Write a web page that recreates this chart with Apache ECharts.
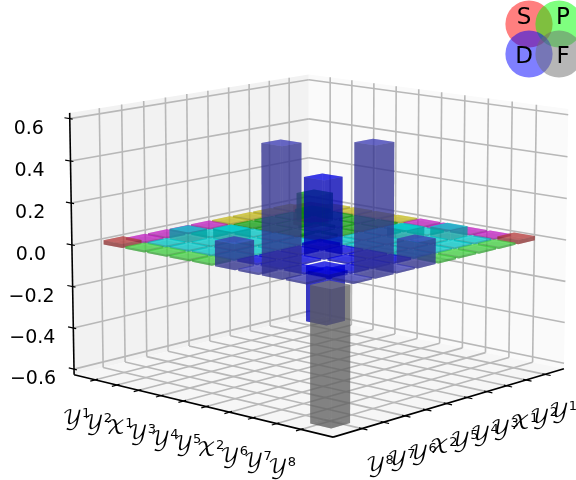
<!DOCTYPE html>
<html><head><meta charset="utf-8">
<style>html,body{margin:0;padding:0;background:#fff}#c{width:576px;height:480px}</style>
<script src="https://cdn.jsdelivr.net/npm/echarts@6/dist/echarts.min.js"></script>
</head><body><div id="c"></div>
<script>
// ---- data ----
const tickLetters = ['𝒴','𝒴','𝒳','𝒴','𝒴','𝒴','𝒳','𝒴','𝒴','𝒴'];
const tickSups    = ['1','2','1','3','4','5','2','6','7','8'];
const orbital    = ['S','P','P','P','P','D','D','D','D','F'];
const zTicks     = [-0.6,-0.4,-0.2,0,0.2,0.4,0.6];
const row0 = [-.10, .01, .01, .01, .01, .01, .01, .01, .01, .02];
const row1 = [ .01, .02, .01, .01, .01, .01, .01, .05, .01, .01];
const row2 = [ .01, .01, .14, .01, .01, .01, .05, .01, .01, .01];
const row3 = [ .01, .01, .01, .02, .01, .01, .01, .01, .01, .01];
const row4 = [ .01, .01, .01, .01, .02, .01, .01, .01, .01, .01];
const row5 = [ .01, .01, .01, .01, .01, .02, .01, .01, .01, .12];
const row6 = [ .01, .01, .05, .01, .01, .01, .37, .01, .01, .01];
const row7 = [ .01, .05, .01, .01, .01, .01, .01,-.26, .01, .60];
const row8 = [ .01, .01, .01, .01, .01, .01, .01, .01, .02, .01];
const row9 = [ .02, .01, .01, .01, .01, .12, .01, .60, .01,-.63];
const matrix = [row0,row1,row2,row3,row4,row5,row6,row7,row8,row9];
const pairColor = {SS:[255,60,60],SP:[210,200,30],SD:[205,30,205],SF:[192,64,64],
  PP:[20,175,20],PD:[0,215,215],PF:[70,225,70],DD:[0,0,240],DF:[64,64,192],FF:[128,128,128]};

// ---- camera (matplotlib-style 3D axes) ----
const ELEV=11.5, PHI=42.2, DIST=10, BOX_W=1.19, BOX_H=0.893, SCALE_X=294, SCALE_Y=298, CX=320, CY=242.5;
const ZMIN=-0.627, ZMAX=0.627, SPAN=11.3, CELL_LO=-0.3, CELL_HI=0.56, TICK_OFF=1;
const e=ELEV*Math.PI/180, p=PHI*Math.PI/180;
const U=[Math.cos(p),-Math.sin(p),0];
const V=[-Math.sin(e)*Math.sin(p),-Math.sin(e)*Math.cos(p),Math.cos(e)];
const W=[Math.cos(e)*Math.sin(p),Math.cos(e)*Math.cos(p),Math.sin(e)];
const dot=(a,b)=>a[0]*b[0]+a[1]*b[1]+a[2]*b[2];
const fx=t=>(t+TICK_OFF)/SPAN, fz=v=>(v-ZMIN)/(ZMAX-ZMIN);
function world(x,y,z){return [(x-.5)*BOX_W,(y-.5)*BOX_W,(z-.5)*BOX_H];}
function proj(x,y,z){const q=world(x,y,z),d=DIST-dot(q,W);return [dot(q,U)/d*DIST,dot(q,V)/d*DIST];}
function depth(x,y,z){return dot(world(x,y,z),W);}

// ---- bars split into faces, sorted far to near ----
const SHADE={top:1,bottom:.7,x0:.8,x1:.72,y0:.8,y1:.72};
function faces(i,j){
  const v=matrix[i][j],x0=fx(i+CELL_LO),x1=fx(i+CELL_HI),y0=fx(j+CELL_LO),y1=fx(j+CELL_HI);
  const z0=fz(Math.min(v,0)),z1=fz(Math.max(v,0));
  return {
   top:[[x0,y0,z1],[x1,y0,z1],[x1,y1,z1],[x0,y1,z1]],
   bottom:[[x0,y0,z0],[x1,y0,z0],[x1,y1,z0],[x0,y1,z0]],
   x0:[[x0,y0,z0],[x0,y1,z0],[x0,y1,z1],[x0,y0,z1]],
   x1:[[x1,y0,z0],[x1,y1,z0],[x1,y1,z1],[x1,y0,z1]],
   y0:[[x0,y0,z0],[x1,y0,z0],[x1,y0,z1],[x0,y0,z1]],
   y1:[[x0,y1,z0],[x1,y1,z0],[x1,y1,z1],[x0,y1,z1]]};
}
const faceItems=[];
matrix.forEach((r,i)=>r.forEach((_,j)=>{
  const f=faces(i,j);
  Object.keys(f).forEach(k=>{
    const d=f[k].reduce((s,c)=>s+depth(c[0],c[1],c[2]),0)/4;
    const key=[orbital[i],orbital[j]].sort((a,b)=>'SPDF'.indexOf(a)-'SPDF'.indexOf(b)).join('');
    const c=pairColor[key].map(n=>Math.round(n*SHADE[k]));
    faceItems.push({pts:f[k],d,color:`rgba(${c[0]},${c[1]},${c[2]},0.52)`});
  });
}));
faceItems.sort((a,b)=>a.d-b.d);

// ---- frame ----
const ticks3=tickSups.map((_,k)=>fx(k));
const frame=[];
const poly=(pts,fill)=>frame.push({kind:'poly',pts,fill});
const line=(a,b,color,w)=>frame.push({kind:'line',a,b,color,w});
poly([[0,0,0],[0,1,0],[0,1,1],[0,0,1]],'#f2f2f2');
poly([[0,0,0],[1,0,0],[1,0,1],[0,0,1]],'#fafafa');
poly([[0,0,0],[1,0,0],[1,1,0],[0,1,0]],'#f6f6f6');
const G='#b8b8b8';
ticks3.forEach(t=>{
  line([0,t,0],[0,t,1],G,1.6); line([t,0,0],[t,0,1],G,1.6);
  line([0,t,0],[1,t,0],G,1.6); line([t,0,0],[t,1,0],G,1.6);
});
zTicks.forEach(v=>{const z=fz(v); line([0,0,z],[0,1,z],G,1.6); line([0,0,z],[1,0,z],G,1.6);});
const K='#000';
line([0,1,0],[1,1,0],K,1.6); line([1,1,0],[1,0,0],K,1.6); line([0,1,0],[0,1,1],K,1.6);
ticks3.forEach(t=>{line([t,.99,0],[t,1.02,0],K,1.2); line([.99,t,0],[1.02,t,0],K,1.2);});
zTicks.forEach(v=>{const z=fz(v); line([-.022,1,z],[.012,1,z],K,1.2);});

const labels=[];
tickLetters.forEach((s,k)=>{
  labels.push({s,sup:tickSups[k],at:[fx(k),1,0],dx:-19,dy:38});
  labels.push({s,sup:tickSups[k],at:[1,fx(k),0],dx:18,dy:37});
});

function polyEl(pts,fill,api){return {type:'polygon',shape:{points:pts.map(c=>api.coord(proj(c[0],c[1],c[2])))},style:{fill},silent:true};}
const xr=[-CX/SCALE_X,(576-CX)/SCALE_X], yr=[-(480-CY)/SCALE_Y,CY/SCALE_Y];
const common={type:'custom',coordinateSystem:'cartesian2d',clip:false,silent:true,animation:false};
const chart=echarts.init(document.getElementById('c'),null,{renderer:'canvas'});
chart.setOption({
  animation:false,backgroundColor:'#fff',
  grid:{left:0,right:0,top:0,bottom:0},
  xAxis:{type:'value',min:xr[0],max:xr[1],show:false},
  yAxis:{type:'value',min:yr[0],max:yr[1],show:false},
  series:[
   {...common,z:1,data:frame.map((_,n)=>[n]),renderItem:(pr,api)=>{const f=frame[api.value(0)];
     if(f.kind==='poly')return polyEl(f.pts,f.fill,api);
     const a=api.coord(proj(...f.a)),b=api.coord(proj(...f.b));
     return {type:'line',shape:{x1:a[0],y1:a[1],x2:b[0],y2:b[1]},style:{stroke:f.color,lineWidth:f.w}};}},
   {...common,z:2,data:faceItems.map((_,n)=>[n]),renderItem:(pr,api)=>{const f=faceItems[api.value(0)];return polyEl(f.pts,f.color,api);}},
   {...common,z:3,data:labels.map((_,n)=>[n]),renderItem:(pr,api)=>{const t=labels[api.value(0)];const c=api.coord(proj(...t.at));
     return {type:'text',x:c[0]+t.dx,y:c[1]+t.dy,style:{text:`{a|${t.s}}{b|${t.sup}}`,x:0,y:0,align:'center',verticalAlign:'middle',
       rich:{a:{fontSize:20,fontFamily:'"DejaVu Math TeX Gyre","DejaVu Serif"',fill:'#000',lineHeight:22},
             b:{fontSize:13,fontFamily:'"DejaVu Sans"',fill:'#000',verticalAlign:'top',lineHeight:22}}}};}},
   {...common,z:3,data:zTicks.map(v=>[v]),renderItem:(pr,api)=>{const v=api.value(0);const c=api.coord(proj(0,1,fz(v)));
     return {type:'text',x:c[0]-41,y:c[1]+10,style:{text:(v<0?'\u2212':'')+Math.abs(v).toFixed(1),x:0,y:0,align:'center',verticalAlign:'middle',fontSize:19,fontFamily:'"DejaVu Sans"',fill:'#000'}};}}
  ],
  graphic:[
   ...[[529,24,'rgba(255,0,0,.5)'],[559,24,'rgba(0,255,0,.5)'],
       [529,54,'rgba(0,0,255,.5)'],[559,54,'rgba(110,110,110,.5)']].map(g=>
     ({type:'circle',shape:{cx:g[0],cy:g[1],r:23.6},style:{fill:g[2]},z:10})),
   ...[['S',524,18],['P',563,18],['D',524,57],['F',563,57]].map(g=>
     ({type:'text',x:g[1],y:g[2],style:{text:g[0],x:0,y:0,align:'center',verticalAlign:'middle',fontSize:23,fontFamily:'"DejaVu Sans"',fill:'#000'},z:11}))
  ]
});
</script></body></html>
